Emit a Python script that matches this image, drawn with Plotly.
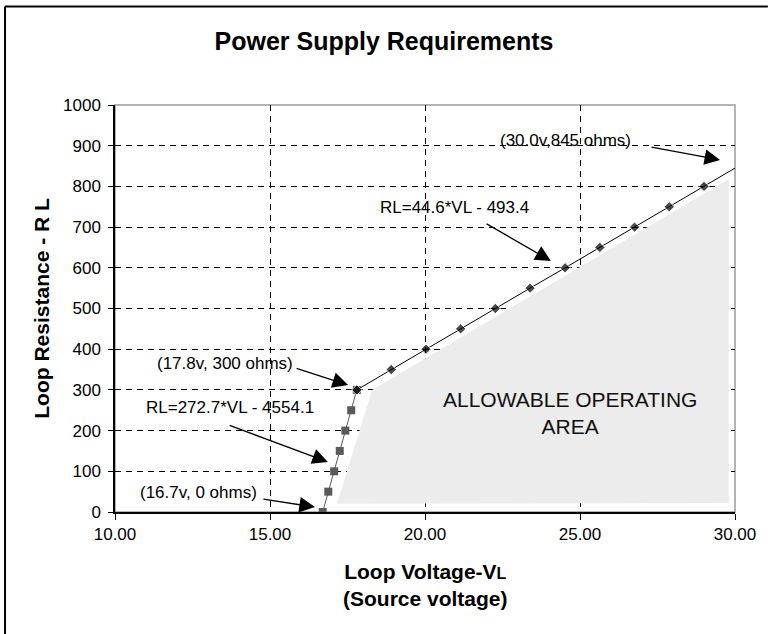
import plotly.graph_objects as go

# Lower segment: RL = 272.7*VL - 4554.1 (square markers)
low_vl = [16.70, 16.88, 17.07, 17.25, 17.43, 17.62, 17.80]
low_rl = [0, 50, 100, 150, 200, 250, 300]

# Upper segment: RL = 44.6*VL - 493.4 (diamond markers), line runs on to 30 V
up_vl = [17.80, 18.91, 20.03, 21.15, 22.27, 23.39, 24.52, 25.64, 26.76, 27.88, 29.00, 30.00]
up_rl = [300, 350, 400, 450, 500, 550, 600, 650, 700, 750, 800, 845]

# Shaded allowable operating area outline
area_vl = [17.16, 18.29, 29.80, 29.80, 17.16]
area_rl = [20, 300, 818, 22, 20]

x_ticks = [10, 15, 20, 25, 30]
x_tick_text = ["10.00", "15.00", "20.00", "25.00", "30.00"]
y_ticks = [0, 100, 200, 300, 400, 500, 600, 700, 800, 900, 1000]

# Callout texts with their positions and arrow tail/head points (V, ohms)
callouts = [
    ("(30.0v,845 ohms)", 24.52, 914, (27.26, 897), (29.52, 865)),
    ("RL=44.6*VL - 493.4", 20.95, 749, (21.94, 710), (24.06, 617)),
    ("(17.8v, 300 ohms)", 13.55, 366, (15.81, 354), (17.52, 312)),
    ("RL=272.7*VL - 4554.1", 13.70, 256, (13.65, 214), (16.87, 123)),
    ("(16.7v, 0 ohms)", 12.70, 49, (14.74, 32), (16.45, 12)),
]

FONT = "Liberation Sans, Arial, sans-serif"

fig = go.Figure()

fig.add_trace(go.Scatter(
    x=area_vl, y=area_rl, mode="lines", fill="toself",
    fillcolor="#ececec", line=dict(width=0, color="#ececec"),
    hoverinfo="skip", showlegend=False,
))

fig.add_trace(go.Scatter(
    x=low_vl, y=low_rl, mode="lines+markers",
    line=dict(color="#5a5a5a", width=1),
    marker=dict(symbol="square", size=8, color="#5a5a5a"),
    showlegend=False,
))

up_sizes = [8] * (len(up_vl) - 1) + [0]
fig.add_trace(go.Scatter(
    x=up_vl, y=up_rl, mode="lines+markers",
    line=dict(color="black", width=1),
    marker=dict(symbol="diamond", size=up_sizes, color="black"),
    showlegend=False,
))

for text, tx, ty, tail, head in callouts:
    fig.add_annotation(
        x=tx, y=ty, xref="x", yref="y", text=text, showarrow=False,
        font=dict(family=FONT, size=17, color="black"),
    )
    fig.add_annotation(
        x=head[0], y=head[1], ax=tail[0], ay=tail[1],
        xref="x", yref="y", axref="x", ayref="y", text="",
        showarrow=True, arrowhead=2, arrowsize=2.4, arrowwidth=1.3,
        arrowcolor="black", standoff=0, startstandoff=0,
    )

fig.add_annotation(
    x=24.68, y=243, xref="x", yref="y",
    text="ALLOWABLE OPERATING<br>AREA", showarrow=False,
    font=dict(family=FONT, size=21, color="#111111"),
)

# Axis titles
fig.add_annotation(
    x=0.5, y=-0.179, xref="paper", yref="paper",
    xanchor="center", yanchor="middle",
    text="<b>Loop Voltage-V<span style='font-size:16px'>L</span></b><br><b>(Source voltage)</b>",
    showarrow=False, font=dict(family=FONT, size=21, color="black"),
)
fig.add_annotation(
    x=-0.119, y=0.50, xref="paper", yref="paper", textangle=-90,
    xanchor="center", yanchor="middle",
    text="<b>Loop Resistance - R L</b>", showarrow=False,
    font=dict(family=FONT, size=21, color="black"),
)

# Plot-area border (grey)
fig.add_shape(type="rect", xref="paper", yref="paper", x0=0, y0=0, x1=1, y1=1,
              line=dict(color="#9a9a9a", width=1.5), layer="below")
# Outer chart frame: left and top edges
fig.add_shape(type="line", xref="paper", yref="paper",
              x0=-0.1774, y0=-0.30, x1=-0.1774, y1=1.242,
              line=dict(color="black", width=2))
fig.add_shape(type="line", xref="paper", yref="paper",
              x0=-0.1774, y0=1.242, x1=1.053, y1=1.242,
              line=dict(color="black", width=2))

fig.update_layout(
    width=768, height=634,
    margin=dict(l=115, r=33, t=105, b=122),
    paper_bgcolor="white", plot_bgcolor="white",
    title=dict(text="<b>Power Supply Requirements</b>", x=0.5, xref="container",
               xanchor="center", y=0.935, yref="container", yanchor="middle",
               font=dict(family=FONT, size=25, color="black")),
    font=dict(family=FONT, size=17, color="black"),
)

fig.update_xaxes(
    range=[10, 30], tickvals=x_ticks, ticktext=x_tick_text,
    showline=True, linecolor="black", linewidth=1.5,
    ticks="outside", ticklen=6, tickcolor="black",
    showgrid=True, gridcolor="black", gridwidth=1, griddash="6px,5px",
    zeroline=False, tickfont=dict(family=FONT, size=17),
)
fig.update_yaxes(
    range=[0, 1000], tickvals=y_ticks,
    showline=True, linecolor="black", linewidth=1.5,
    ticks="outside", ticklen=5, tickcolor="black", ticklabelstandoff=4,
    showgrid=True, gridcolor="black", gridwidth=1, griddash="6px,5px",
    zeroline=False, tickfont=dict(family=FONT, size=17),
)

# Keep the page free of margins and scrollbars so the whole figure shows
page_css = (
    "var s=document.createElement('style');"
    "s.textContent='html,body{margin:0;padding:0;overflow:hidden;}"
    "::-webkit-scrollbar{display:none;width:0;height:0;}';"
    "document.head.appendChild(s);"
)
fig.write_html("out.html", post_script=page_css)
